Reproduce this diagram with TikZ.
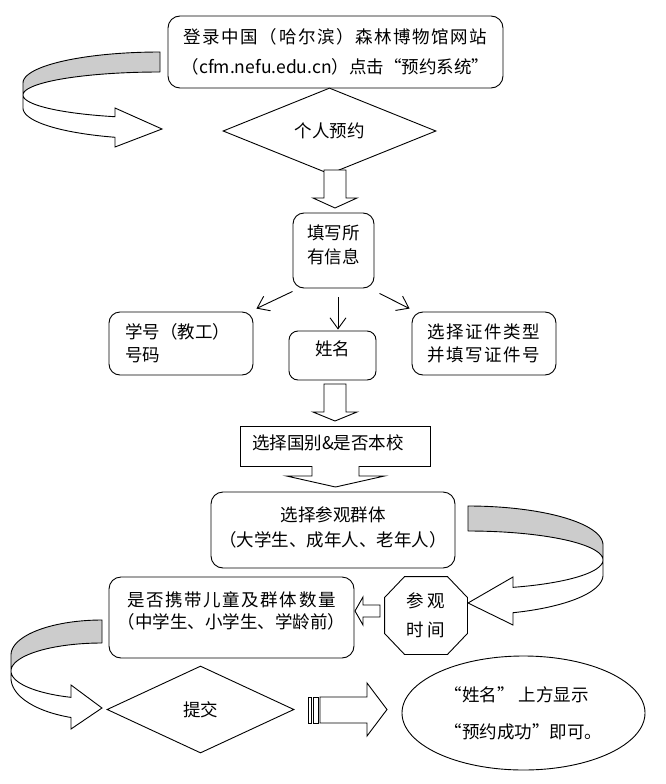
\documentclass[tikz,border=0pt]{standalone}
\usepackage{fontspec}
\setmainfont{Noto Sans CJK SC}
\newfontfamily\widefont[LetterSpace=9]{Noto Sans CJK SC}
\usetikzlibrary{calc,arrows.meta,shapes.geometric}
\definecolor{ribbon}{RGB}{204,204,204}
\newcommand\blockdown[6]{\draw[blockarr] ({#1-#5},#2) -- ({#1-#5},#3) -- ({#1-#6},#3) -- (#1,#4) -- ({#1+#6},#3) -- ({#1+#5},#3) -- ({#1+#5},#2) -- cycle;}
\begin{document}
\begin{tikzpicture}[x=1pt,y=-1pt,line width=0.9pt,
  box/.style={draw, fill=white, rounded corners=12pt, inner sep=0pt, align=center},
  lh/.style={font=\fontsize{17.5}{#1}\selectfont},
  wlh/.style={font=\widefont\fontsize{17.5}{#1}\selectfont},
  thinarr/.style={-{Straight Barb[length=11pt,width=16pt]}},
  blockarr/.style={draw, fill=white, line join=miter},
  back/.style={draw, fill=ribbon, line join=round},
  front/.style={draw, fill=white, line join=miter},
  font=\fontsize{17.5}{22}\selectfont]
\fill[white] (0,0) rectangle (665,784);
\useasboundingbox (0,0) rectangle (665,784);

% ---------- nodes ----------
\node[box, minimum width=335pt, minimum height=72pt, lh=30] (top) at (335.5,52)
  {{\widefont 登录中国（哈尔滨）森林博物馆网站}\\（cfm.nefu.edu.cn）点击“预约系统”};
\node[diamond, draw, fill=white, inner sep=0pt, minimum width=213pt, minimum height=76pt] (gr) at (329.5,131) {个人预约};
\node[box, rounded corners=11pt, minimum width=81pt, minimum height=75pt, lh=24, text depth=12pt] (info) at (333.5,250.5) {填写所\\有信息};
\node[box, rounded corners=11pt, align=left, text width=112pt, inner xsep=16pt, minimum height=63pt, lh=23] (xh) at (181,343.5) {学号（教工）\\号码};
\node[box, rounded corners=9pt, minimum width=87pt, minimum height=49pt, text depth=14pt] (xm) at (332.5,355.5) {姓名};
\node[box, rounded corners=11pt, minimum width=144pt, minimum height=63pt, wlh=23] (zj) at (484,343.5) {选择证件类型\\并填写证件号};
\node[draw, fill=white, inner ysep=0pt, inner xsep=12pt, align=left, text width=166pt, minimum height=40pt, text depth=8pt] (gb) at (335,446) {选择国别\&是否本校};
\node[box, minimum width=244pt, minimum height=76pt, lh=25, text depth=7pt] (cq) at (333,530) {选择参观群体\\（大学生、成年人、老年人）};
\node[box, minimum width=245pt, minimum height=81pt, lh=22, text depth=15pt] (et) at (231.5,617.5) {{\widefont 是否携带儿童及群体数量}\\（中学生、小学生、学龄前）};
\node[minimum width=82pt, minimum height=77pt, inner sep=0pt, align=center, lh=29] (oct) at (426,615.5) {参 观\\时 间};
\draw[line join=miter] ($(oct.north west)+(20,0)$) -- ($(oct.north east)+(-20,0)$) -- ($(oct.north east)+(0,21)$) -- ($(oct.south east)+(0,-21)$) -- ($(oct.south east)+(-20,0)$) -- ($(oct.south west)+(20,0)$) -- ($(oct.south west)+(0,-21)$) -- ($(oct.north west)+(0,21)$) -- cycle;
\node[diamond, draw, fill=white, inner sep=0pt, minimum width=187pt, minimum height=87pt] (tj) at (200.5,709.5) {提交};
\node[ellipse, draw, fill=white, inner sep=0pt, minimum width=243pt, minimum height=114pt, align=left, lh=37] (ok) at (523.5,713) {“姓名” 上方显示\\“预约成功”即可。};

% ---------- thin arrows ----------
\draw[thinarr] ($(info.south west)+(0,3)$) -- ($(xh.north east)+(3,-3)$);
\draw[thinarr] ($(info.south)+(4.5,9)$) -- ($(xm.north)+(5.5,-1)$);
\draw[thinarr] ($(info.south east)+(5,5)$) -- ($(zj.north west)+(-2,-3)$);

% ---------- block arrows ----------
\blockdown{335}{170}{198}{208}{11}{22}
\blockdown{335}{384}{412}{421}{11}{22}
\fill[white] (312,464.5) -- (312,476) -- (286.5,476) -- (335.5,487) -- (384.5,476) -- (359,476) -- (359,464.5) -- cycle;
\draw[line join=miter] (312,466) -- (312,476) -- (286.5,476) -- (335.5,487) -- (384.5,476) -- (359,476) -- (359,466);
\draw[blockarr] (380,605) -- (363,605) -- (363,597) -- (355,611) -- (363,625) -- (363,617) -- (380,617) -- cycle;
\draw (308,697) rectangle (311.5,723);
\draw (313,697) rectangle (318.5,723);
\draw[blockarr] (320,697) -- (367,697) -- (367,683) -- (387,709.5) -- (367,736) -- (367,723) -- (320,723) -- cycle;

% ---------- curved arrow, top left ----------
\draw[back] (160,52) -- plot[domain=270:180, samples=40] ({160+137*cos(\x)},{83+31*sin(\x)})
  -- plot[domain=180:270, samples=40] ({160+137*cos(\x)},{95+23*sin(\x)}) -- cycle;
\draw[front] plot[domain=180:109.2, samples=40] ({160+137*cos(\x)},{95+23*sin(\x)})
  -- (115,108) -- (162,129) -- (115,147)
  -- plot[domain=109.2:180, samples=40] ({160+137*cos(\x)},{108+31*sin(\x)}) -- cycle;

% ---------- curved arrow, right ----------
\draw[back] (468,506) -- plot[domain=270:360, samples=40] ({468+135*cos(\x)},{545+39*sin(\x)})
  -- plot[domain=360:270, samples=40] ({468+135*cos(\x)},{560+29*sin(\x)}) -- cycle;
\draw[front] plot[domain=0:70.53, samples=40] ({468+135*cos(\x)},{560+29*sin(\x)})
  -- (513,577) -- (468,603) -- (513,625)
  -- plot[domain=70.53:0, samples=40] ({468+135*cos(\x)},{575+40*sin(\x)}) -- cycle;

% ---------- curved arrow, bottom left ----------
\draw[back] (102,620) -- plot[domain=270:180, samples=40] ({102+91*cos(\x)},{655+35*sin(\x)})
  -- plot[domain=180:270, samples=40] ({102+91*cos(\x)},{671+28*sin(\x)}) -- cycle;
\draw[front] plot[domain=180:109.92, samples=40] ({102+91*cos(\x)},{671+28*sin(\x)})
  -- (71,685) -- (102,708) -- (71,729)
  -- plot[domain=109.92:180, samples=40] ({102+91*cos(\x)},{678+42*sin(\x)}) -- cycle;
\end{tikzpicture}
\end{document}
